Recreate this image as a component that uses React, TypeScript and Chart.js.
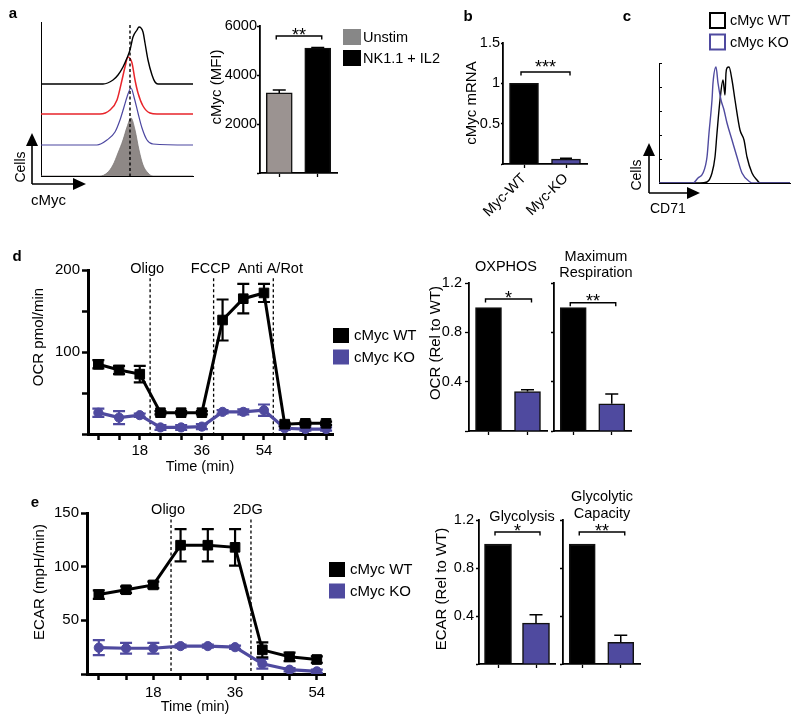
import React, { useEffect, useRef } from "react";
import { Chart, registerables } from "chart.js";

Chart.register(...registerables);

const PAGE_W = 800;
const PAGE_H = 724;
const FONT = '"Liberation Sans", Arial, Helvetica, sans-serif';
const BLACK = "#000000";
const PURPLE = "#4f4a9f";
const GRAY_BAR = "#9b9391";
const GRAY_LEGEND = "#878787";
const GRAY_FILL = "#8e8886";
const RED = "#e8252b";
const BLUE_HIST = "#4b46a0";

// ---------- Panel a : cMyc histograms (channel, relative count) ----------
const HIST_A_GRAY_X = [0, 59, 66, 72, 77, 82, 86, 90, 94, 98, 102, 107, 112, 152];
const HIST_A_GRAY_Y = [0, 0, 3, 11, 23, 36, 49, 58, 46, 26, 11, 3, 0, 0];
const HIST_A_BLUE_X = [0, 56, 66, 74, 79, 83, 86, 90, 93, 97, 101, 106, 112, 152];
const HIST_A_BLUE_Y = [0, 0, 5, 13, 25, 38, 48, 57, 48, 32, 17, 5, 1, 0];
const HIST_A_RED_X = [0, 59, 69, 76, 81, 84, 87, 91, 94, 97, 102, 109, 116, 152];
const HIST_A_RED_Y = [0, 0, 4, 14, 34, 47, 57, 51, 34, 21, 8, 1, 0, 0];
const HIST_A_BLACK_X = [0, 62, 72, 77, 82, 86, 89, 92, 96, 98, 102, 104, 107, 111, 114, 117, 152];
const HIST_A_BLACK_Y = [0, 0, 4, 9, 17, 26, 34, 47, 54, 57, 52, 41, 24, 9, 2, 0, 0];
const HIST_A_OFFSETS = [0, 31, 62, 92]; // gray, blue, red, black (offset overlay)
const HIST_A_MARKER = 89;

// ---------- Panel a : cMyc MFI ----------
const A_LABELS = ["Unstim", "NK1.1 + IL2"];
const A_MFI = [3270, 5100];
const A_MFI_ERR = [120, 20];
const A_TICKS = [0, 2000, 4000, 6000];
const A_SIG = "**";
const A_SIG_Y = 5590;

// ---------- Panel b : cMyc mRNA ----------
const B_LABELS = ["Myc-WT", "Myc-KO"];
const B_MRNA = [1.0, 0.06];
const B_ERR = [0, 0.01];
const B_TICKS = [0, 0.5, 1, 1.5];
const B_SIG = "***";
const B_SIG_Y = 1.14;

// ---------- Panel c : CD71 histograms ----------
const HIST_C_KO_X = [0, 34, 39, 44, 48, 50, 53, 54, 57, 59, 62, 65, 68, 73, 78, 83, 91, 94, 131];
const HIST_C_KO_Y = [0, 0, 5, 10, 26, 50, 83, 100, 116, 100, 83, 73, 60, 43, 26, 10, 1, 0, 0];
const HIST_C_WT_X = [0, 41, 48, 53, 56, 58, 61, 64, 66, 67, 68, 70, 73, 76, 81, 85, 88, 93, 98, 101, 131];
const HIST_C_WT_Y = [0, 0, 1, 10, 26, 50, 83, 103, 88, 110, 115, 116, 103, 83, 53, 43, 26, 10, 3, 0, 0];
const HIST_C_TICKS = [0, 24, 48, 72, 96, 120];

// ---------- Panels d/e shared ----------
const GENOTYPES = ["cMyc WT", "cMyc KO"];

// ---------- Panel d : OCR ----------
const OCR_TIME = [6, 12, 18, 24, 30, 36, 42, 48, 54, 60, 66, 72];
const OCR_WT = [85, 78, 73, 26, 26, 26, 139, 165, 172, 12, 13, 13];
const OCR_WT_ERR = [5, 5, 10, 2, 2, 2, 25, 18, 11, 2, 2, 2];
const OCR_KO = [26, 20, 23, 8, 8, 9, 27, 27, 29, 7, 6, 6];
const OCR_KO_ERR = [5, 8, 2, 3, 3, 3, 2, 3, 7, 2, 2, 2];
const OCR_Y_TICKS = [0, 50, 100, 150, 200];
const OCR_Y_LABELS = [100, 200];
const OCR_X_LABELS = [18, 36, 54];
const OCR_INJ_NAMES = ["Oligo", "FCCP", "Anti A/Rot"];
const OCR_INJ_TIMES = [21, 39.4, 56.7];

const OXPHOS = [1.0, 0.32];
const OXPHOS_ERR = [0, 0.015];
const MAXRESP = [1.0, 0.22];
const MAXRESP_ERR = [0, 0.08];
const REL_TICKS = [0, 0.4, 0.8, 1.2];

// ---------- Panel e : ECAR ----------
const ECAR_TIME = [6, 12, 18, 24, 30, 36, 42, 48, 54];
const ECAR_WT = [74, 78.5, 83, 120, 120, 118, 22.5, 16, 13.5];
const ECAR_WT_ERR = [4, 3, 3, 15, 15, 17, 7, 4, 3];
const ECAR_KO = [24.5, 24, 24, 26, 26, 25, 9.5, 4, 2.5];
const ECAR_KO_ERR = [7, 5, 5, 1.5, 1.5, 1.5, 4.5, 1.5, 1.5];
const ECAR_Y_TICKS = [0, 50, 100, 150];
const ECAR_Y_LABELS = [50, 100, 150];
const ECAR_X_LABELS = [18, 36, 54];
const ECAR_INJ_NAMES = ["Oligo", "2DG"];
const ECAR_INJ_TIMES = [21.9, 39.5];

const GLYCO = [1.0, 0.34];
const GLYCO_ERR = [0, 0.07];
const GLYCAP = [1.0, 0.18];
const GLYCAP_ERR = [0, 0.06];

// ----------------------------------------------------------------------
type Box = { left: number; top: number; right: number; bottom: number };

function padFor(box: Box, yW: number, xH: number) {
  return {
    left: box.left - yW,
    top: box.top,
    right: PAGE_W - box.right,
    bottom: PAGE_H - box.bottom - xH,
  };
}

function baseOptions(box: Box, yW: number, xH: number) {
  return {
    responsive: false,
    maintainAspectRatio: false,
    animation: false,
    devicePixelRatio: 1,
    events: [],
    layout: { padding: padFor(box, yW, xH) },
    plugins: { legend: { display: false }, tooltip: { enabled: false }, title: { display: false } },
  };
}

function txt(
  ctx: CanvasRenderingContext2D,
  s: string,
  x: number,
  y: number,
  size: number,
  o: { align?: CanvasTextAlign; baseline?: CanvasTextBaseline; bold?: boolean; rotate?: number; color?: string } = {}
) {
  ctx.save();
  ctx.font = `${o.bold ? "bold " : ""}${size}px ${FONT}`;
  ctx.fillStyle = o.color || "#000";
  ctx.textAlign = o.align || "center";
  ctx.textBaseline = o.baseline || "middle";
  ctx.translate(x, y);
  if (o.rotate) ctx.rotate(o.rotate);
  ctx.fillText(s, 0, 0);
  ctx.restore();
}

function bracket(c: any, yVal: number, label: string, starDy: number) {
  const ctx: CanvasRenderingContext2D = c.ctx;
  const xs = c.scales.x;
  const ys = c.scales.y;
  const x0 = xs.getPixelForValue(0) - 3;
  const x1 = xs.getPixelForValue(1) + 4;
  const y = ys.getPixelForValue(yVal);
  ctx.save();
  ctx.strokeStyle = "#000";
  ctx.lineWidth = 1.4;
  ctx.beginPath();
  ctx.moveTo(x0, y + 3.5);
  ctx.lineTo(x0, y);
  ctx.lineTo(x1, y);
  ctx.lineTo(x1, y + 3.5);
  ctx.stroke();
  ctx.restore();
  txt(ctx, label, (x0 + x1) / 2, y + starDy, 18, { baseline: "alphabetic" });
}

function arrowAxes(ctx: CanvasRenderingContext2D, ox: number, oy: number, up: number, right: number) {
  ctx.save();
  ctx.strokeStyle = "#000";
  ctx.fillStyle = "#000";
  ctx.lineWidth = 1.6;
  ctx.beginPath();
  ctx.moveTo(ox, oy);
  ctx.lineTo(ox, oy - up + 10);
  ctx.moveTo(ox, oy);
  ctx.lineTo(ox + right - 10, oy);
  ctx.stroke();
  ctx.beginPath();
  ctx.moveTo(ox, oy - up);
  ctx.lineTo(ox - 6, oy - up + 13);
  ctx.lineTo(ox + 6, oy - up + 13);
  ctx.closePath();
  ctx.fill();
  ctx.beginPath();
  ctx.moveTo(ox + right, oy);
  ctx.lineTo(ox + right - 13, oy - 6);
  ctx.lineTo(ox + right - 13, oy + 6);
  ctx.closePath();
  ctx.fill();
  ctx.restore();
}

// ---------------------------- histograms ------------------------------
function histAConfig(): any {
  const box = { left: 41, top: 22, right: 193, bottom: 176 };
  const mk = (xs: number[], ys: number[], off: number) => xs.map((x, i) => ({ x, y: ys[i] + off }));
  const common = { pointRadius: 0, cubicInterpolationMode: "monotone", fill: false };
  return {
    type: "line",
    data: {
      datasets: [
        { ...common, data: mk(HIST_A_BLACK_X, HIST_A_BLACK_Y, HIST_A_OFFSETS[3]), borderColor: "#000", borderWidth: 1.4 },
        { ...common, data: mk(HIST_A_RED_X, HIST_A_RED_Y, HIST_A_OFFSETS[2]), borderColor: RED, borderWidth: 1.5 },
        { ...common, data: mk(HIST_A_BLUE_X, HIST_A_BLUE_Y, HIST_A_OFFSETS[1]), borderColor: BLUE_HIST, borderWidth: 1.2 },
        {
          ...common,
          data: mk(HIST_A_GRAY_X, HIST_A_GRAY_Y, HIST_A_OFFSETS[0]),
          borderColor: "#7d7877",
          borderWidth: 0.8,
          backgroundColor: GRAY_FILL,
          fill: "origin",
        },
      ],
    },
    options: {
      ...baseOptions(box, 0, 0),
      scales: {
        x: {
          type: "linear", min: 0, max: 152,
          ticks: { display: false }, grid: { display: false },
          border: { color: "#000", width: 1 },
          afterFit: (s: any) => { s.height = 0; },
        },
        y: {
          min: 0, max: 154,
          ticks: { display: false }, grid: { display: false },
          border: { color: "#000", width: 1 },
          afterFit: (s: any) => { s.width = 0; },
        },
      },
    },
    plugins: [
      {
        id: "histA",
        afterDatasetsDraw(c: any) {
          const ctx: CanvasRenderingContext2D = c.ctx;
          const x = c.scales.x.getPixelForValue(HIST_A_MARKER);
          ctx.save();
          ctx.setLineDash([3, 2.5]);
          ctx.strokeStyle = "#000";
          ctx.lineWidth = 1.4;
          ctx.beginPath();
          ctx.moveTo(x, c.scales.y.getPixelForValue(151));
          ctx.lineTo(x, c.scales.y.getPixelForValue(0));
          ctx.stroke();
          ctx.restore();
        },
        afterDraw(c: any) {
          const ctx: CanvasRenderingContext2D = c.ctx;
          const a = c.chartArea;
          txt(ctx, "a", 13, 14, 15, { bold: true });
          arrowAxes(ctx, a.left - 9, a.bottom + 8, 51, 54);
          txt(ctx, "Cells", 21, 167, 14, { rotate: -Math.PI / 2 });
          txt(ctx, "cMyc", 31, 205, 15, { align: "left", baseline: "alphabetic" });
        },
      },
    ],
  };
}

function histCConfig(): any {
  const box = { left: 659, top: 63, right: 790, bottom: 183 };
  const mk = (xs: number[], ys: number[]) => xs.map((x, i) => ({ x, y: ys[i] }));
  const common = { pointRadius: 0, cubicInterpolationMode: "monotone", fill: false, borderWidth: 1.4 };
  return {
    type: "line",
    data: {
      datasets: [
        { ...common, label: GENOTYPES[1], data: mk(HIST_C_KO_X, HIST_C_KO_Y), borderColor: PURPLE },
        { ...common, label: GENOTYPES[0], data: mk(HIST_C_WT_X, HIST_C_WT_Y), borderColor: "#000" },
      ],
    },
    options: {
      ...baseOptions(box, 0, 0),
      scales: {
        x: {
          type: "linear", min: 0, max: 131,
          ticks: { display: false }, grid: { display: false },
          border: { color: "#000", width: 1 },
          afterFit: (s: any) => { s.height = 0; },
        },
        y: {
          min: 0, max: 120,
          afterBuildTicks: (s: any) => { s.ticks = HIST_C_TICKS.map((v) => ({ value: v })); },
          ticks: { display: false },
          grid: { drawOnChartArea: false, tickLength: -3, tickColor: "#000", tickWidth: 1 },
          border: { color: "#000", width: 1 },
          afterFit: (s: any) => { s.width = 0; },
        },
      },
    },
    plugins: [
      {
        id: "histC",
        afterDraw(c: any) {
          const ctx: CanvasRenderingContext2D = c.ctx;
          const a = c.chartArea;
          txt(ctx, "c", 627, 17, 15, { bold: true });
          arrowAxes(ctx, a.left - 10, a.bottom + 10, 50, 51);
          txt(ctx, "Cells", 637, 175, 14, { rotate: -Math.PI / 2 });
          txt(ctx, "CD71", 650, 213, 14, { align: "left", baseline: "alphabetic" });
          const cols = ["#000", PURPLE];
          GENOTYPES.forEach((g, i) => {
            const y = 12 + i * 21.5;
            ctx.save();
            ctx.strokeStyle = cols[i];
            ctx.lineWidth = 2;
            ctx.strokeRect(710, y + 1, 15, 15);
            ctx.restore();
            txt(ctx, g, 730, y + 9, 14.5, { align: "left" });
          });
        },
      },
    ],
  };
}

// ---------------------------- bar charts ------------------------------
type BarOpts = {
  box: Box;
  labels: string[];
  values: number[];
  errors: number[];
  colors: string[];
  yMax: number;
  yTicks: number[];
  showYLabels: boolean;
  yW: number;
  xH: number;
  barThickness: number;
  capW: number;
  sig: string;
  sigY: number;
  starDy: number;
  tickLen: number;
  labelPad: number;
  xTickLabels?: boolean;
  extra?: (c: any) => void;
};

function barConfig(o: BarOpts): any {
  return {
    type: "bar",
    data: {
      labels: o.labels,
      datasets: [
        {
          data: o.values,
          backgroundColor: o.colors,
          borderColor: "#111",
          borderWidth: 1.5,
          barThickness: o.barThickness,
        },
      ],
    },
    options: {
      ...baseOptions(o.box, o.yW, o.xH),
      scales: {
        x: {
          type: "category",
          offset: true,
          grid: { display: true, offset: false, drawOnChartArea: false, tickLength: 4, tickWidth: 1.3, tickColor: "#000" },
          border: { color: "#000", width: 1.8 },
          ticks: o.xTickLabels
            ? { display: true, minRotation: 45, maxRotation: 45, autoSkip: false, font: { family: FONT, size: 14.5 }, color: "#000", padding: 2 }
            : { display: false },
          afterFit: (s: any) => { s.height = o.xH; },
        },
        y: {
          min: 0,
          max: o.yMax,
          afterBuildTicks: (s: any) => { s.ticks = o.yTicks.map((v) => ({ value: v })); },
          grid: { drawOnChartArea: false, tickLength: o.tickLen, tickWidth: 1.3, tickColor: "#000" },
          border: { color: "#000", width: 1.8 },
          ticks: {
            display: o.showYLabels,
            callback: (v: any) => (v === 0 ? "" : String(v)),
            font: { family: FONT, size: 14.5 },
            color: "#000",
            padding: o.labelPad,
          },
          afterFit: (s: any) => { s.width = o.yW; },
        },
      },
    },
    plugins: [
      {
        id: "barExtras",
        afterDatasetsDraw(c: any) {
          const ctx: CanvasRenderingContext2D = c.ctx;
          const ys = c.scales.y;
          const meta = c.getDatasetMeta(0);
          meta.data.forEach((el: any, i: number) => {
            const e = o.errors[i];
            if (!e) return;
            const yTop = ys.getPixelForValue(o.values[i] + e);
            ctx.save();
            ctx.strokeStyle = "#000";
            ctx.lineWidth = 1.5;
            ctx.beginPath();
            ctx.moveTo(el.x, el.y);
            ctx.lineTo(el.x, yTop);
            ctx.moveTo(el.x - o.capW / 2, yTop);
            ctx.lineTo(el.x + o.capW / 2, yTop);
            ctx.stroke();
            ctx.restore();
          });
        },
        afterDraw(c: any) {
          bracket(c, o.sigY, o.sig, o.starDy);
          if (o.extra) o.extra(c);
        },
      },
    ],
  };
}

// ---------------------------- line charts -----------------------------
type LineOpts = {
  box: Box;
  time: number[];
  wt: number[];
  wtErr: number[];
  ko: number[];
  koErr: number[];
  xMin: number;
  xMax: number;
  xLabels: number[];
  yMax: number;
  yTicks: number[];
  yLabels: number[];
  injNames: string[];
  injTimes: number[];
  injTop: number;
  injLabelY: number;
  legendX: number;
  legendY: number;
  xLabelPad: number;
  extra: (c: any) => void;
};

function lineConfig(o: LineOpts): any {
  return {
    type: "line",
    data: {
      datasets: [
        {
          label: GENOTYPES[0],
          data: o.time.map((t, i) => ({ x: t, y: o.wt[i] })),
          borderColor: BLACK,
          backgroundColor: BLACK,
          borderWidth: 3,
          pointStyle: "rect",
          pointRadius: 6.8,
          pointBorderWidth: 1,
          tension: 0,
        },
        {
          label: GENOTYPES[1],
          data: o.time.map((t, i) => ({ x: t, y: o.ko[i] })),
          borderColor: PURPLE,
          backgroundColor: PURPLE,
          borderWidth: 3.2,
          pointStyle: "circle",
          pointRadius: 4.6,
          pointBorderWidth: 1,
          tension: 0,
        },
      ],
    },
    options: {
      ...baseOptions(o.box, 45, 30),
      scales: {
        x: {
          type: "linear",
          min: o.xMin,
          max: o.xMax,
          afterBuildTicks: (s: any) => { s.ticks = o.time.map((v) => ({ value: v })); },
          ticks: {
            autoSkip: false,
            maxRotation: 0,
            callback: (v: any) => (o.xLabels.includes(v) ? String(v) : ""),
            font: { family: FONT, size: 15 },
            color: "#000",
            padding: o.xLabelPad,
          },
          grid: { drawOnChartArea: false, tickLength: 6, tickWidth: 2.5, tickColor: "#000" },
          border: { color: "#000", width: 3 },
          afterFit: (s: any) => { s.height = 30; },
        },
        y: {
          min: 0,
          max: o.yMax,
          afterBuildTicks: (s: any) => { s.ticks = o.yTicks.map((v) => ({ value: v })); },
          ticks: {
            callback: (v: any) => (o.yLabels.includes(v) ? String(v) : ""),
            font: { family: FONT, size: 15 },
            color: "#000",
            padding: 2,
          },
          grid: { drawOnChartArea: false, tickLength: 6, tickWidth: 2.5, tickColor: "#000" },
          border: { color: "#000", width: 3 },
          afterFit: (s: any) => { s.width = 45; },
        },
      },
    },
    plugins: [
      {
        id: "lineExtras",
        beforeDatasetsDraw(c: any) {
          const ctx: CanvasRenderingContext2D = c.ctx;
          const xs = c.scales.x;
          const ys = c.scales.y;
          o.injTimes.forEach((t) => {
            const x = xs.getPixelForValue(t);
            ctx.save();
            ctx.setLineDash([3, 2.5]);
            ctx.lineWidth = 1.3;
            ctx.strokeStyle = "#000";
            ctx.beginPath();
            ctx.moveTo(x, ys.getPixelForValue(o.injTop));
            ctx.lineTo(x, ys.getPixelForValue(0));
            ctx.stroke();
            ctx.restore();
          });
          const sets: [number[], number[], string][] = [
            [o.ko, o.koErr, PURPLE],
            [o.wt, o.wtErr, BLACK],
          ];
          sets.forEach(([vals, errs, col]) => {
            vals.forEach((v, i) => {
              const x = xs.getPixelForValue(o.time[i]);
              const y0 = ys.getPixelForValue(v - errs[i]);
              const y1 = ys.getPixelForValue(v + errs[i]);
              ctx.save();
              ctx.strokeStyle = col;
              ctx.lineWidth = 2.2;
              ctx.beginPath();
              ctx.moveTo(x, y0);
              ctx.lineTo(x, y1);
              ctx.moveTo(x - 6, y0);
              ctx.lineTo(x + 6, y0);
              ctx.moveTo(x - 6, y1);
              ctx.lineTo(x + 6, y1);
              ctx.stroke();
              ctx.restore();
            });
          });
        },
        afterDraw(c: any) {
          const ctx: CanvasRenderingContext2D = c.ctx;
          const xs = c.scales.x;
          o.injNames.forEach((n, i) => {
            txt(ctx, n, xs.getPixelForValue(o.injTimes[i]) - 3, o.injLabelY, 14.5);
          });
          const cols = [BLACK, PURPLE];
          GENOTYPES.forEach((g, i) => {
            const y = o.legendY + i * 21.5;
            ctx.save();
            ctx.fillStyle = cols[i];
            ctx.fillRect(o.legendX, y, 16, 15);
            ctx.restore();
            txt(ctx, g, o.legendX + 21, y + 8, 15, { align: "left" });
          });
          o.extra(c);
        },
      },
    ],
  };
}

function buildConfigs(): any[] {
  const ROT = -Math.PI / 2;
  return [
    histAConfig(),
    barConfig({
      box: { left: 260, top: 26, right: 337, bottom: 173 },
      labels: A_LABELS,
      values: A_MFI,
      errors: A_MFI_ERR,
      colors: [GRAY_BAR, BLACK],
      yMax: 6000,
      yTicks: A_TICKS,
      showYLabels: true,
      yW: 50,
      xH: 10,
      barThickness: 26,
      capW: 13,
      sig: A_SIG,
      sigY: A_SIG_Y,
      starDy: 4.5,
      tickLen: 3,
      labelPad: 0,
      extra: (c) => {
        const ctx: CanvasRenderingContext2D = c.ctx;
        txt(ctx, "cMyc (MFI)", 217, 87, 15, { rotate: ROT });
        const cols = [GRAY_LEGEND, BLACK];
        A_LABELS.forEach((lab, i) => {
          const y = 29 + i * 21;
          ctx.save();
          ctx.fillStyle = cols[i];
          ctx.fillRect(343, y, 18, 16);
          ctx.restore();
          txt(ctx, lab, 363, y + 8.5, 14.5, { align: "left" });
        });
      },
    }),
    barConfig({
      box: { left: 503, top: 43, right: 587, bottom: 164 },
      labels: B_LABELS,
      values: B_MRNA,
      errors: B_ERR,
      colors: [BLACK, PURPLE],
      yMax: 1.5,
      yTicks: B_TICKS,
      showYLabels: true,
      yW: 30,
      xH: 60,
      barThickness: 29,
      capW: 12,
      sig: B_SIG,
      sigY: B_SIG_Y,
      starDy: 1,
      tickLen: 2,
      labelPad: 1,
      xTickLabels: true,
      extra: (c) => {
        const ctx: CanvasRenderingContext2D = c.ctx;
        txt(ctx, "b", 468, 17, 15, { bold: true });
        txt(ctx, "cMyc mRNA", 472, 103, 15, { rotate: ROT });
      },
    }),
    histCConfig(),
    lineConfig({
      box: { left: 88, top: 270, right: 333, bottom: 434 },
      time: OCR_TIME,
      wt: OCR_WT,
      wtErr: OCR_WT_ERR,
      ko: OCR_KO,
      koErr: OCR_KO_ERR,
      xMin: 3,
      xMax: 74,
      xLabels: OCR_X_LABELS,
      yMax: 200,
      yTicks: OCR_Y_TICKS,
      yLabels: OCR_Y_LABELS,
      injNames: OCR_INJ_NAMES,
      injTimes: OCR_INJ_TIMES,
      injTop: 190,
      injLabelY: 269,
      legendX: 333,
      legendY: 328,
      xLabelPad: 2,
      extra: (c) => {
        const ctx: CanvasRenderingContext2D = c.ctx;
        txt(ctx, "d", 17, 257, 15, { bold: true });
        txt(ctx, "OCR pmol/min", 39, 337, 15, { rotate: ROT });
        txt(ctx, "Time (min)", 200, 467, 14.5);
      },
    }),
    barConfig({
      box: { left: 469, top: 283, right: 547, bottom: 431 },
      labels: GENOTYPES,
      values: OXPHOS,
      errors: OXPHOS_ERR,
      colors: [BLACK, PURPLE],
      yMax: 1.2,
      yTicks: REL_TICKS,
      showYLabels: true,
      yW: 40,
      xH: 10,
      barThickness: 26,
      capW: 13,
      sig: "*",
      sigY: 1.07,
      starDy: 4.5,
      tickLen: 4,
      labelPad: 3,
      extra: (c) => {
        const ctx: CanvasRenderingContext2D = c.ctx;
        txt(ctx, "OXPHOS", 506, 270.5, 14.5, { baseline: "alphabetic" });
        txt(ctx, "OCR (Rel to WT)", 436, 343, 15, { rotate: ROT });
      },
    }),
    barConfig({
      box: { left: 554, top: 283, right: 631, bottom: 431 },
      labels: GENOTYPES,
      values: MAXRESP,
      errors: MAXRESP_ERR,
      colors: [BLACK, PURPLE],
      yMax: 1.2,
      yTicks: REL_TICKS,
      showYLabels: false,
      yW: 5,
      xH: 10,
      barThickness: 26,
      capW: 13,
      sig: "**",
      sigY: 1.04,
      starDy: 4.5,
      tickLen: 3,
      labelPad: 0,
      extra: (c) => {
        const ctx: CanvasRenderingContext2D = c.ctx;
        txt(ctx, "Maximum", 596, 260.5, 14.5, { baseline: "alphabetic" });
        txt(ctx, "Respiration", 596, 277, 14.5, { baseline: "alphabetic" });
      },
    }),
    lineConfig({
      box: { left: 87, top: 513, right: 325, bottom: 674 },
      time: ECAR_TIME,
      wt: ECAR_WT,
      wtErr: ECAR_WT_ERR,
      ko: ECAR_KO,
      koErr: ECAR_KO_ERR,
      xMin: 3.4,
      xMax: 55.8,
      xLabels: ECAR_X_LABELS,
      yMax: 150,
      yTicks: ECAR_Y_TICKS,
      yLabels: ECAR_Y_LABELS,
      injNames: ECAR_INJ_NAMES,
      injTimes: ECAR_INJ_TIMES,
      injTop: 144,
      injLabelY: 510,
      legendX: 329,
      legendY: 562,
      xLabelPad: 4,
      extra: (c) => {
        const ctx: CanvasRenderingContext2D = c.ctx;
        txt(ctx, "e", 35, 503, 15, { bold: true });
        txt(ctx, "ECAR (mpH/min)", 40, 582, 15, { rotate: ROT });
        txt(ctx, "Time (min)", 195, 707, 14.5);
      },
    }),
    barConfig({
      box: { left: 479, top: 520, right: 555, bottom: 664 },
      labels: GENOTYPES,
      values: GLYCO,
      errors: GLYCO_ERR,
      colors: [BLACK, PURPLE],
      yMax: 1.2,
      yTicks: REL_TICKS,
      showYLabels: true,
      yW: 40,
      xH: 10,
      barThickness: 27,
      capW: 13,
      sig: "*",
      sigY: 1.1,
      starDy: 4.5,
      tickLen: 3,
      labelPad: 2,
      extra: (c) => {
        const ctx: CanvasRenderingContext2D = c.ctx;
        txt(ctx, "Glycolysis", 522, 520.5, 14.5, { baseline: "alphabetic" });
        txt(ctx, "ECAR (Rel to WT)", 442, 589, 15, { rotate: ROT });
      },
    }),
    barConfig({
      box: { left: 563, top: 520, right: 640, bottom: 664 },
      labels: GENOTYPES,
      values: GLYCAP,
      errors: GLYCAP_ERR,
      colors: [BLACK, PURPLE],
      yMax: 1.2,
      yTicks: REL_TICKS,
      showYLabels: false,
      yW: 5,
      xH: 10,
      barThickness: 26,
      capW: 13,
      sig: "**",
      sigY: 1.1,
      starDy: 4.5,
      tickLen: 3,
      labelPad: 0,
      extra: (c) => {
        const ctx: CanvasRenderingContext2D = c.ctx;
        txt(ctx, "Glycolytic", 602, 500.5, 14.5, { baseline: "alphabetic" });
        txt(ctx, "Capacity", 602, 518, 14.5, { baseline: "alphabetic" });
      },
    }),
  ];
}

const N_CHARTS = 10;

export default function App() {
  const refs = useRef<(HTMLCanvasElement | null)[]>([]);

  useEffect(() => {
    Chart.defaults.font.family = FONT;
    Chart.defaults.color = "#000";
    const configs = buildConfigs();
    const charts = configs.map((cfg, i) => new Chart(refs.current[i] as HTMLCanvasElement, cfg));
    return () => charts.forEach((ch) => ch.destroy());
  }, []);

  return (
    <div
      style={{
        position: "fixed",
        left: 0,
        top: 0,
        width: PAGE_W,
        height: PAGE_H,
        background: "#ffffff",
        overflow: "hidden",
      }}
    >
      {Array.from({ length: N_CHARTS }).map((_, i) => (
        <canvas
          key={i}
          ref={(el) => {
            refs.current[i] = el;
          }}
          width={PAGE_W}
          height={PAGE_H}
          style={{ position: "absolute", left: 0, top: 0, width: PAGE_W, height: PAGE_H }}
        />
      ))}
    </div>
  );
}
